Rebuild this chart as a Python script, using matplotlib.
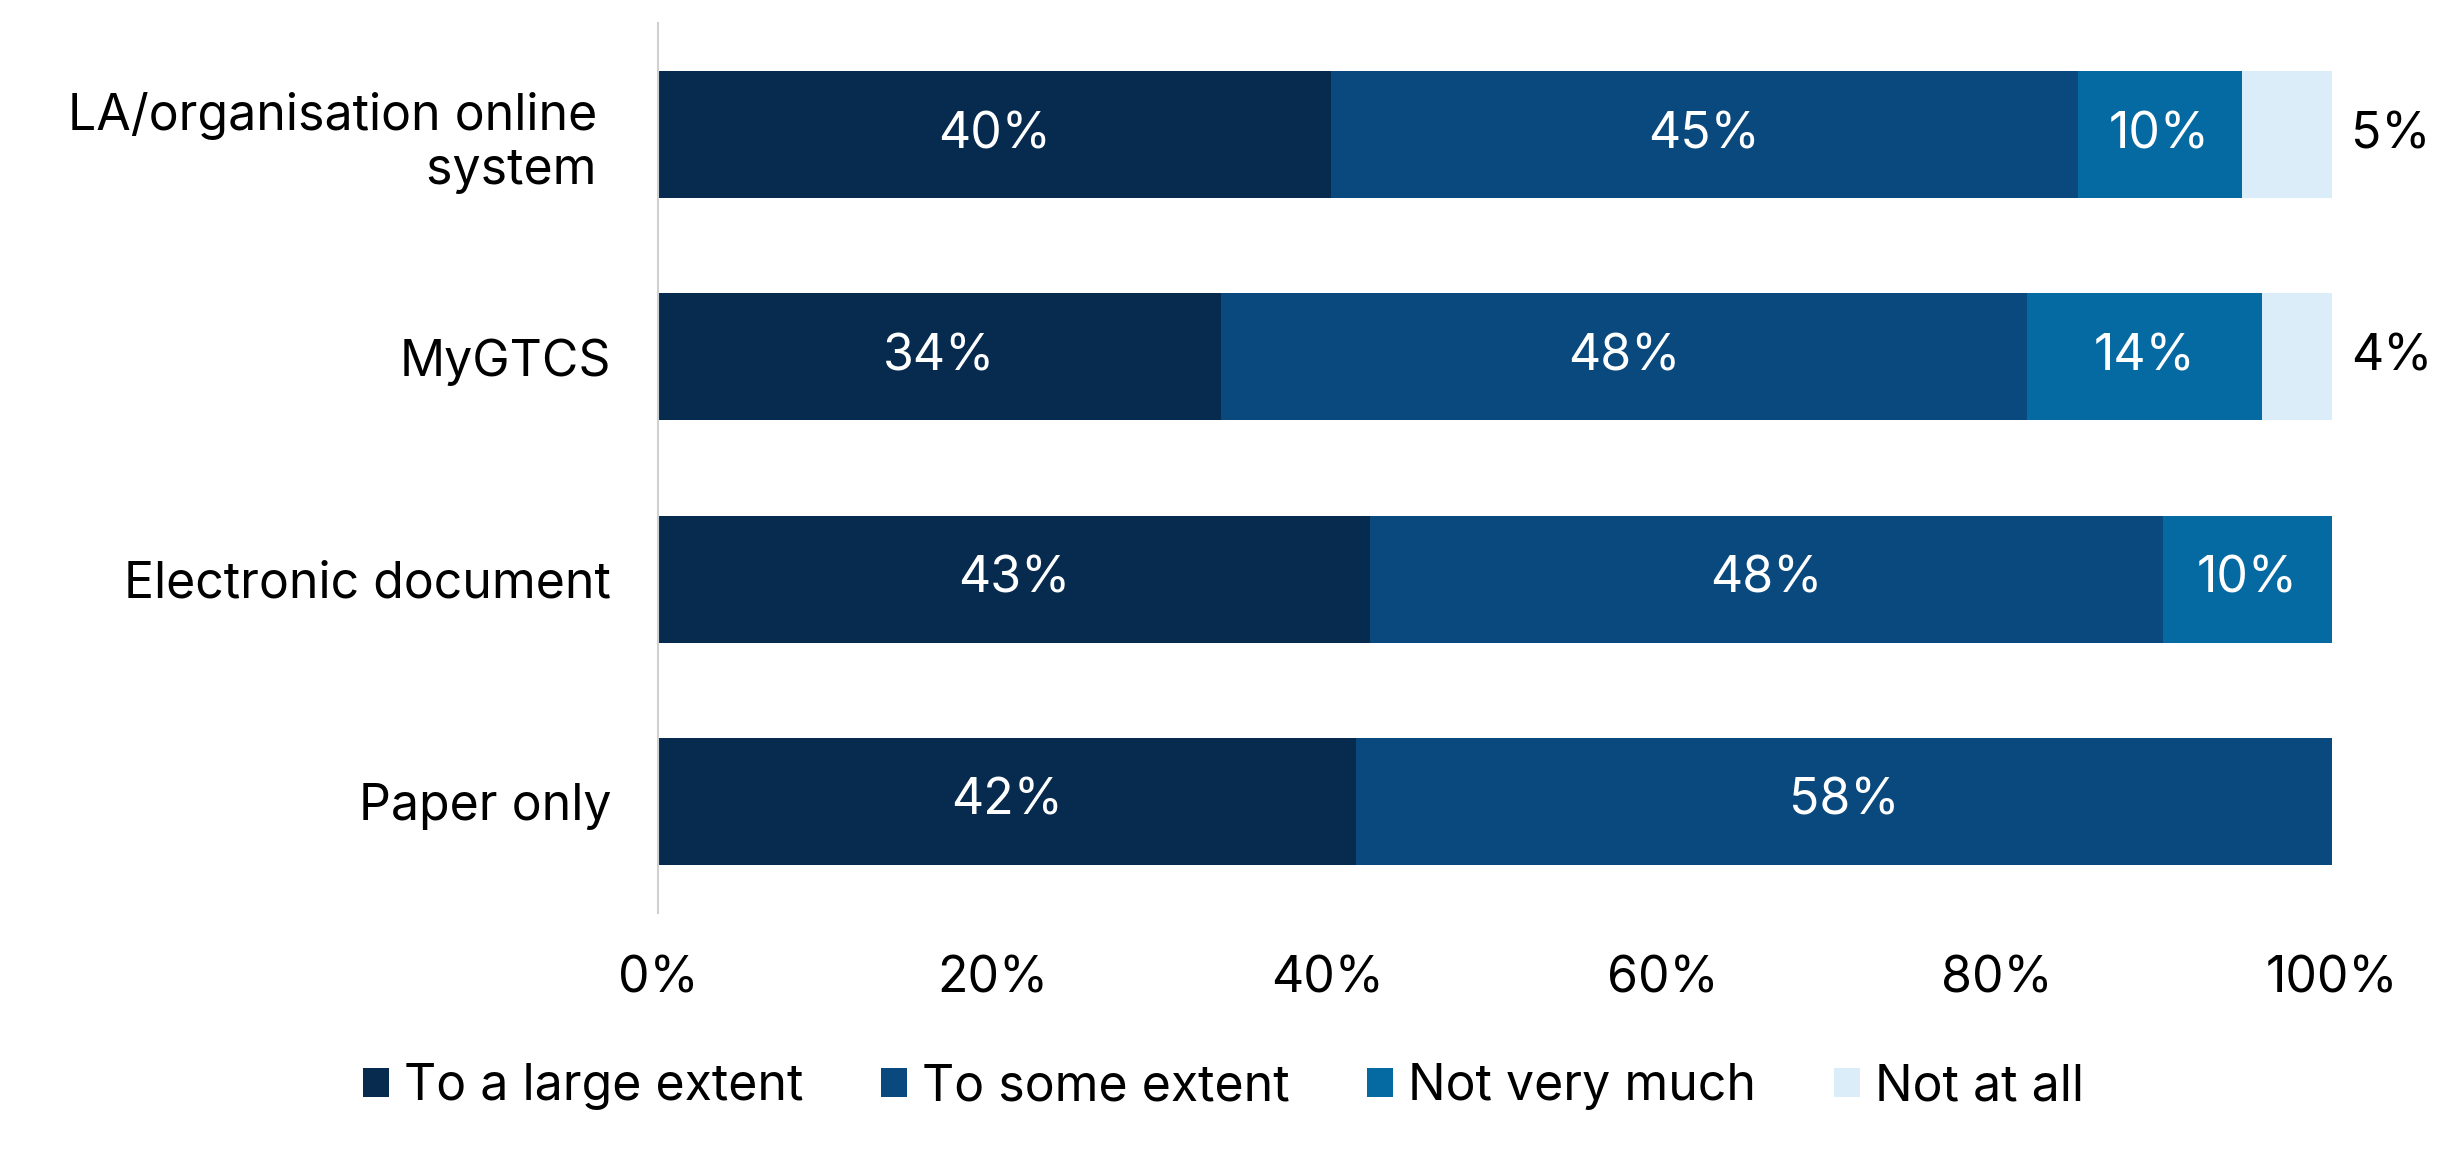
import matplotlib.pyplot as plt
import numpy as np

plt.rcParams['font.family'] = ['Inter', 'DejaVu Sans']

# categories, top to bottom
categories = ["LA/organisation online \nsystem ", "MyGTCS", "Electronic document", "Paper only"]
series_names = ["To a large extent", "To some extent", "Not very much", "Not at all"]

# shares
large_extent = [40.2, 33.6, 42.5, 41.7]
some_extent = [44.6, 48.2, 47.4, 58.3]
not_very_much = [9.8, 14.0, 10.1, 0.0]
not_at_all = [5.4, 4.2, 0.0, 0.0]

# printed labels
label_large = ["40%", "34%", "43%", "42%"]
label_some = ["45%", "48%", "48%", "58%"]
label_notvery = ["10%", "14%", "10%", ""]
label_notall = ["5%", "4%", "", ""]

colors = ["#072B4F", "#0A497D", "#066AA2", "#DCEDFA"]

fs = 36

fig = plt.figure(figsize=(24.47, 11.7), dpi=100)
ax = fig.add_axes([0.269, 0.22, 0.684, 0.76])

y = np.arange(len(categories))
series = [large_extent, some_extent, not_very_much, not_at_all]
labels = [label_large, label_some, label_notvery, label_notall]

left = np.zeros(len(categories))
bars = []
for vals, col, name in zip(series, colors, series_names):
    b = ax.barh(y, vals, left=left, height=0.57, color=col, label=name, linewidth=0)
    bars.append(b)
    left = left + np.array(vals)

# labels inside the first three segments
for b, labs in zip(bars[:3], labels[:3]):
    ax.bar_label(b, labels=labs, label_type='center', color='white', fontsize=fs)

# "not at all" labels outside the bar
for i, lab in enumerate(label_notall):
    if lab:
        ax.annotate(lab, xy=(left[i], y[i]), xytext=(14, 0), textcoords='offset points',
                    ha='left', va='center', fontsize=fs, color='black',
                    annotation_clip=False)

ax.set_xlim(0, 100)
ax.set_ylim(3.5, -0.5)
ax.set_xticks([0, 20, 40, 60, 80, 100])
ax.set_xticklabels(["0%", "20%", "40%", "60%", "80%", "100%"])
ax.set_yticks(y)
ax.set_yticklabels(categories, multialignment='right')
ax.tick_params(axis='x', length=0, pad=31, labelsize=fs)
ax.tick_params(axis='y', length=0, pad=34, labelsize=fs)

for s in ["top", "right", "bottom"]:
    ax.spines[s].set_visible(False)
ax.spines["left"].set_color("#D0D0D0")
ax.spines["left"].set_linewidth(1.5)

fig.legend(loc='center', bbox_to_anchor=(0.5, 0.071), ncol=4, frameon=False,
           fontsize=fs, handlelength=0.52, handleheight=0.52, handletextpad=0.3,
           columnspacing=1.55)

fig.savefig("out.png", dpi=100)
